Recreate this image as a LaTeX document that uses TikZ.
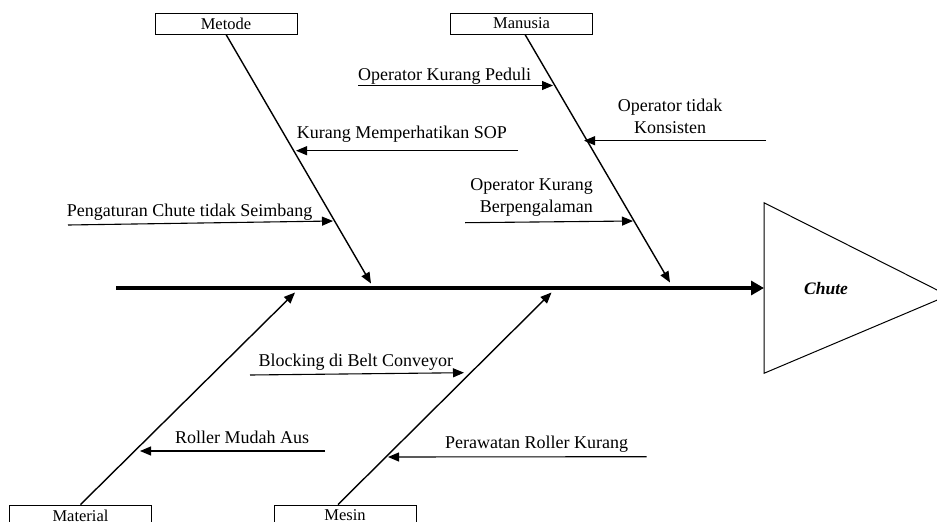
\documentclass[tikz,border=0pt]{standalone}
\usepackage{fontspec}
\setmainfont{Liberation Serif}
\usetikzlibrary{arrows.meta,calc}
\begin{document}
\begin{tikzpicture}[x=1pt,y=-1pt,
  catbox/.style={draw,line width=0.9pt,minimum width=142pt,minimum height=21pt,inner sep=0pt,font=\fontsize{16.5}{19}\selectfont},
  bone/.style={line width=1.4pt,-{Triangle[length=11pt,width=9pt]}},
  cause/.style={line width=1.1pt,-{Triangle[length=11pt,width=9pt]}},
  lbl/.style={inner sep=0pt,font=\fontsize{18}{21.6}\selectfont},
  spine/.style={line width=3.2pt,-{Triangle[length=13pt,width=14pt]}},
  headtri/.style={line width=1pt}]
\useasboundingbox (0,0) rectangle (937,522);

% category boxes
\node[catbox] (metode) at (226,23.5) {Metode};
\node[catbox] (manusia) at (521.5,23.5) {Manusia};
\node[catbox] (material) at (80.5,515.5) {Material};
\node[catbox] (mesin) at (345,515.5) {Mesin};

% head
\draw[headtri] (764,202.7) -- (948,295.5) -- (764,373.3) -- cycle;
\coordinate (headL) at (764,288);
\node[font=\fontsize{17.5}{20}\selectfont\bfseries\itshape] (chute) at (826,289) {Chute};

% spine
\coordinate (tail) at (116,288);
\draw[spine] (tail) -- (headL);

% bone tips
\coordinate (tMetode) at (371,283.5);
\coordinate (tManusia) at (670,282.5);
\coordinate (tMaterial) at (295,292.5);
\coordinate (tMesin) at (551.5,292.5);

\draw[bone] (metode.south) -- (tMetode);
\draw[bone] ([xshift=3.5pt]manusia.south) -- (tManusia);
\draw[bone] (material.north) -- (tMaterial);
\draw[bone] ([xshift=-7pt]mesin.north) -- (tMesin);

% causes: Manusia
\node[lbl,anchor=base west] (c1) at (358,80) {Operator Kurang Peduli};
\coordinate (c1s) at (358,85.5);
\coordinate (c1e) at (553,85.5);
\draw[cause] (c1s) -- (c1e);

\node[lbl,align=center] (c2) at (670,116.5) {Operator tidak\\Konsisten};
\coordinate (c2s) at (766,140.7);
\coordinate (c2e) at (584,140.7);
\draw[cause] (c2s) -- (c2e);

\node[lbl,align=right,anchor=east] (c3) at (593,197.5) {Operator Kurang\\Berpengalaman};
\coordinate (c3s) at (465,222.7);
\coordinate (c3e) at (633,221);
\draw[cause] (c3s) -- (c3e);

% causes: Metode
\node[lbl,anchor=base west] (c4) at (296.7,138.5) {Kurang Memperhatikan SOP};
\coordinate (c4s) at (518,150.7);
\coordinate (c4e) at (296,150.7);
\draw[cause] (c4s) -- (c4e);

\node[lbl,anchor=base west] (c5) at (66.7,216.7) {Pengaturan Chute tidak Seimbang};
\coordinate (c5s) at (68,225);
\coordinate (c5e) at (333,221);
\draw[cause] (c5s) -- (c5e);

% causes: Material
\node[lbl,anchor=base west] (c6) at (175,443.3) {Roller Mudah Aus};
\coordinate (c6s) at (325,451);
\coordinate (c6e) at (140,451);
\draw[cause] (c6s) -- (c6e);

% causes: Mesin
\node[lbl,anchor=base west] (c7) at (258.3,366.7) {Blocking di Belt Conveyor};
\coordinate (c7s) at (250,375);
\coordinate (c7e) at (464,372.7);
\draw[cause] (c7s) -- (c7e);

\node[lbl,anchor=base west] (c8) at (445,448.3) {Perawatan Roller Kurang};
\coordinate (c8s) at (646.7,456.7);
\coordinate (c8e) at (388,457);
\draw[cause] (c8s) -- (c8e);
\end{tikzpicture}
\end{document}
